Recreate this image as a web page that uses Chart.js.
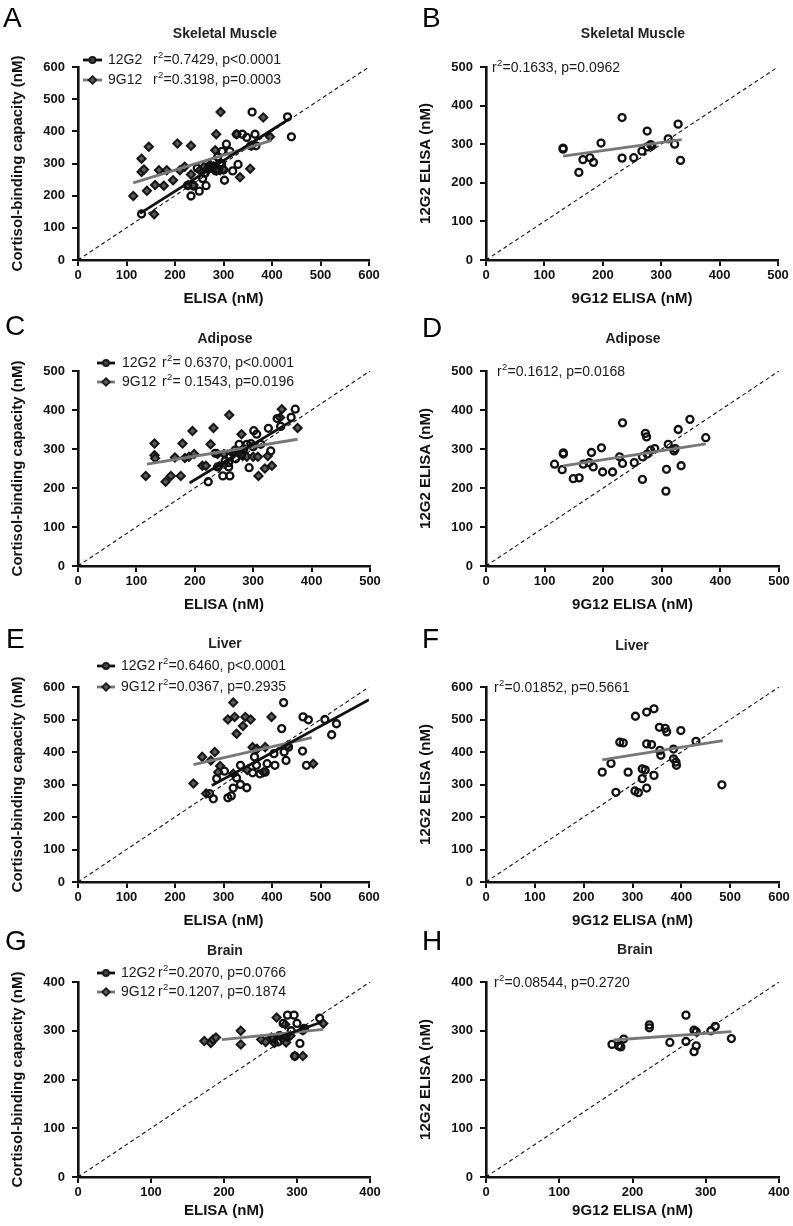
<!DOCTYPE html>
<html><head><meta charset="utf-8">
<script src="https://cdn.jsdelivr.net/npm/chart.js@4/dist/chart.umd.min.js"></script>
<style>
html,body{margin:0;padding:0;background:#fff;}
#wrap{position:relative;width:793px;height:1226px;overflow:hidden;background:#fff;}
canvas{position:absolute;}
</style></head><body><div id="wrap"></div>
<script>
// ---------- DATA ----------
const TICKS_600 = [0,100,200,300,400,500,600];
const TICKS_500 = [0,100,200,300,400,500];
const TICKS_400 = [0,100,200,300,400];

// Panel A – Skeletal Muscle, ELISA vs cortisol-binding capacity
const A_12G2_x = [131,233,250,264,257,302,279,293,297,306,313,319,330,327,339,348,359,365,367,356,432,440,226,238,262,270,276,284,290,288,296,300,268,246,280];
const A_12G2_y = [143,199,214,231,253,248,305,300,338,360,338,277,297,391,391,381,460,391,355,355,445,383,232,230,270,290,285,277,282,320,300,280,283,285,292];
const A_9G12_x = [114,131,131,136,146,142,157,159,167,177,183,196,205,210,220,233,233,227,238,251,260,279,285,294,283,293,327,334,355,382,396,358,268,300,286,272];
const A_9G12_y = [199,315,274,281,352,215,142,233,279,231,279,248,362,279,290,355,266,233,233,279,290,290,391,460,341,279,391,257,284,443,383,355,282,282,278,296];
const A_fit12G2_x = [128,437], A_fit12G2_y = [145,440];
const A_fit9G12_x = [114,399], A_fit9G12_y = [240,372];

// Panel B – Skeletal Muscle, 9G12 vs 12G2
const B_x = [132,132,159,166,178,184,197,233,233,253,267,276,276,282,284,312,323,329,333];
const B_y = [290,287,227,260,265,253,303,369,264,265,282,293,334,299,296,314,300,352,258];
const B_fit_x = [132,335], B_fit_y = [269,312];

// Panel C – Adipose
const C_12G2_x = [223,248,260,239,258,260,269,276,289,296,293,300,301,306,313,326,330,341,347,365,372,235,258,280,284,270,252];
const C_12G2_y = [216,231,231,254,254,280,297,312,312,314,252,306,347,338,312,353,295,378,358,381,402,289,265,285,300,275,270];
const C_9G12_x = [116,131,131,132,150,159,166,176,179,183,190,196,199,227,232,213,219,239,242,250,259,266,280,282,289,300,309,308,320,325,332,346,349,376,277];
const C_9G12_y = [231,314,284,276,216,231,278,231,314,277,280,346,287,312,354,257,257,287,256,287,387,287,338,282,280,280,231,280,250,282,257,381,402,354,292];
const C_fit12G2_x = [191,366], C_fit12G2_y = [213,372];
const C_fit9G12_x = [118,376], C_fit9G12_y = [261,325];

// Panel D – Adipose, 9G12 vs 12G2
const D_x = [117,130,132,132,149,159,166,176,180,183,197,199,216,228,233,233,253,267,267,272,274,275,281,288,308,307,311,321,323,328,333,348,375];
const D_y = [261,247,290,287,224,226,261,265,291,254,303,241,241,280,367,263,265,280,222,340,331,287,297,301,248,192,312,295,301,350,257,376,329];
const D_fit_x = [132,375], D_fit_y = [257,313];

// Panel E – Liver
const E_12G2_x = [271,279,286,302,320,309,316,327,335,348,360,364,368,386,390,406,404,420,424,425,429,434,463,464,471,475,509,523,533,335,375];
const E_12G2_y = [272,256,318,341,289,259,265,320,359,290,336,385,359,338,364,359,395,472,552,400,374,415,403,508,359,499,500,453,487,300,333];
const E_9G12_x = [238,256,274,282,293,309,320,323,327,340,345,356,360,369,386,399,320,382,432,485,264,289,349,367];
const E_9G12_y = [303,385,374,400,357,500,552,508,456,480,508,500,415,410,415,508,333,338,420,364,272,338,345,407];
const E_fit12G2_x = [276,600], E_fit12G2_y = [297,561];
const E_fit9G12_x = [238,482], E_fit9G12_y = [361,444];

// Panel F – Liver, 9G12 vs 12G2
const F_x = [238,256,266,274,291,281,306,305,312,320,320,326,329,329,329,339,344,344,355,356,358,367,370,384,384,389,390,399,430,483];
const F_y = [338,365,276,430,338,428,510,280,275,318,348,345,425,523,289,423,533,328,476,405,390,473,462,409,379,369,359,466,433,299];
const F_fit_x = [238,485], F_fit_y = [376,435];

// Panel G – Brain
const G_12G2_x = [268,274,281,287,296,300,304,297,331,308,276,285,292,310];
const G_12G2_y = [284,277,315,332,332,315,274,248,326,301,290,288,300,305];
const G_9G12_x = [173,182,185,189,223,223,251,257,265,269,272,277,284,285,287,297,308,308,336,280,291];
const G_9G12_y = [279,275,282,286,300,272,282,277,286,275,327,289,313,276,287,248,248,301,315,284,290];
const G_fit12G2_x = [268,334], G_fit12G2_y = [283,318];
const G_fit9G12_x = [197,336], G_fit9G12_y = [282,303];

// Panel H – Brain, 9G12 vs 12G2
const H_x = [172,181,184,188,223,223,251,273,273,284,287,287,284,307,313,335];
const H_y = [272,269,267,283,312,306,276,332,278,301,298,269,257,300,309,284];
const H_fit_x = [174,335], H_fit_y = [281,298];

// Identity lines (y = x) endpoints
const IDENT_600 = [0,600], IDENT_500 = [0,500], IDENT_400 = [0,400];

// Legend / annotation texts
const LEG_A = [['12G2','=0.7429, p<0.0001'],['9G12','=0.3198, p=0.0003']];
const LEG_C = [['12G2','= 0.6370, p<0.0001'],['9G12','= 0.1543, p=0.0196']];
const LEG_E = [['12G2','=0.6460, p<0.0001'],['9G12','=0.0367, p=0.2935']];
const LEG_G = [['12G2','=0.2070, p=0.0766'],['9G12','=0.1207, p=0.1874']];
const NOTE_B = '=0.1633, p=0.0962';
const NOTE_D = '=0.1612, p=0.0168';
const NOTE_F = '=0.01852, p=0.5661';
const NOTE_H = '=0.08544, p=0.2720';

// ---------- STYLE / LAYOUT ----------
const FONT = "'Liberation Sans', Arial, Helvetica, sans-serif";
const INK = '#111';
const GRAY = '#777';
function pts(xs, ys){ return xs.map((x,i)=>({x:x, y:ys[i]})); }

const circleStyle = {pointStyle:'circle', pointRadius:3.5, pointBorderWidth:2.3, borderColor:INK, backgroundColor:'rgba(255,255,255,0)'};
const diamondStyle = {pointStyle:'rectRot', pointRadius:4.1, pointBorderWidth:2, borderColor:'#151515', backgroundColor:'#5a5a5a'};

function pointSet(label, xs, ys, st){
  return {type:'scatter', label:label, data:pts(xs,ys), order:1, showLine:false,
    pointStyle:st.pointStyle, pointRadius:st.pointRadius, borderWidth:st.pointBorderWidth,
    borderColor:st.borderColor, backgroundColor:st.backgroundColor, pointHoverRadius:st.pointRadius};
}
function lineSet(label, xs, ys, color, width, dash, order){
  return {type:'scatter', label:label, data:pts(xs,ys), order:order, showLine:true,
    pointRadius:0, borderColor:color, borderWidth:width, borderDash:dash||[], fill:false};
}

const leftY = 'Cortisol-binding capacity (nM)';
const rightY = '12G2 ELISA (nM)';

const panels = [
  {letter:'A', left:0, top:0, w:400, h:315, area:{l:78,r:369,t:67,b:260}, xTC:299, max:600, ticks:TICKS_600,
   xTitle:'ELISA (nM)', yTitle:leftY, yPad:9, letterPos:[3,27], title:'Skeletal Muscle', titlePos:[225,38],
   legend:LEG_A, legPos:{lx1:83, lx2:102, nx:108, sx:153, y1:60, y2:80},
   sets:[lineSet('fit 12G2',A_fit12G2_x,A_fit12G2_y,INK,2.8,null,0), lineSet('fit 9G12',A_fit9G12_x,A_fit9G12_y,GRAY,2.8,null,0),
         pointSet('12G2',A_12G2_x,A_12G2_y,circleStyle), pointSet('9G12',A_9G12_x,A_9G12_y,diamondStyle),
         lineSet('identity',IDENT_600,IDENT_600,INK,1.1,[4,3],3)]},
  {letter:'B', left:400, top:0, w:393, h:315, area:{l:86,r:378,t:67,b:260}, xTC:299, max:500, ticks:TICKS_500,
   xTitle:'9G12 ELISA (nM)', yTitle:rightY, yPad:17, letterPos:[22,27], title:'Skeletal Muscle', titlePos:[233,38],
   note:NOTE_B, notePos:[92,68],
   sets:[lineSet('fit',B_fit_x,B_fit_y,GRAY,2.8,null,0), pointSet('12G2 vs 9G12',B_x,B_y,circleStyle),
         lineSet('identity',IDENT_500,IDENT_500,INK,1.1,[4,3],3)]},
  {letter:'C', left:0, top:300, w:400, h:320, area:{l:78,r:370,t:71,b:266}, xTC:305, max:500, ticks:TICKS_500,
   xTitle:'ELISA (nM)', yTitle:leftY, yPad:9, letterPos:[5,35], title:'Adipose', titlePos:[225,43],
   legend:LEG_C, legPos:{lx1:97, lx2:115, nx:122, sx:162, y1:63, y2:82},
   sets:[lineSet('fit 12G2',C_fit12G2_x,C_fit12G2_y,INK,2.8,null,0), lineSet('fit 9G12',C_fit9G12_x,C_fit9G12_y,GRAY,2.8,null,0),
         pointSet('12G2',C_12G2_x,C_12G2_y,circleStyle), pointSet('9G12',C_9G12_x,C_9G12_y,diamondStyle),
         lineSet('identity',IDENT_500,IDENT_500,INK,1.1,[4,3],3)]},
  {letter:'D', left:400, top:300, w:393, h:320, area:{l:86,r:379,t:71,b:266}, xTC:305, max:500, ticks:TICKS_500,
   xTitle:'9G12 ELISA (nM)', yTitle:rightY, yPad:17, letterPos:[22,37], title:'Adipose', titlePos:[233,43],
   note:NOTE_D, notePos:[97,72],
   sets:[lineSet('fit',D_fit_x,D_fit_y,GRAY,2.8,null,0), pointSet('12G2 vs 9G12',D_x,D_y,circleStyle),
         lineSet('identity',IDENT_500,IDENT_500,INK,1.1,[4,3],3)]},
  {letter:'E', left:0, top:605, w:400, h:325, area:{l:78,r:369,t:82,b:277}, xTC:316, max:600, ticks:TICKS_600,
   xTitle:'ELISA (nM)', yTitle:leftY, yPad:9, letterPos:[6,43], title:'Liver', titlePos:[225,43],
   legend:LEG_E, legPos:{lx1:97, lx2:115, nx:121, sx:158, y1:61, y2:82},
   sets:[lineSet('fit 12G2',E_fit12G2_x,E_fit12G2_y,INK,2.8,null,0), lineSet('fit 9G12',E_fit9G12_x,E_fit9G12_y,GRAY,2.8,null,0),
         pointSet('12G2',E_12G2_x,E_12G2_y,circleStyle), pointSet('9G12',E_9G12_x,E_9G12_y,diamondStyle),
         lineSet('identity',IDENT_600,IDENT_600,INK,1.1,[4,3],3)]},
  {letter:'F', left:400, top:605, w:393, h:325, area:{l:86,r:379,t:82,b:277}, xTC:316, max:600, ticks:TICKS_600,
   xTitle:'9G12 ELISA (nM)', yTitle:rightY, yPad:17, letterPos:[22,43], title:'Liver', titlePos:[232,45],
   note:NOTE_F, notePos:[94,83],
   sets:[lineSet('fit',F_fit_x,F_fit_y,GRAY,2.8,null,0), pointSet('12G2 vs 9G12',F_x,F_y,circleStyle),
         lineSet('identity',IDENT_600,IDENT_600,INK,1.1,[4,3],3)]},
  {letter:'G', left:0, top:915, w:400, h:311, area:{l:78,r:370,t:67,b:262}, xTC:296, max:400, ticks:TICKS_400,
   xTitle:'ELISA (nM)', yTitle:leftY, yPad:9, letterPos:[5,35], title:'Brain', titlePos:[225,40],
   legend:LEG_G, legPos:{lx1:97, lx2:115, nx:121, sx:158, y1:58, y2:77},
   sets:[lineSet('fit 12G2',G_fit12G2_x,G_fit12G2_y,INK,2.8,null,0), lineSet('fit 9G12',G_fit9G12_x,G_fit9G12_y,GRAY,2.8,null,0),
         pointSet('12G2',G_12G2_x,G_12G2_y,circleStyle), pointSet('9G12',G_9G12_x,G_9G12_y,diamondStyle),
         lineSet('identity',IDENT_400,IDENT_400,INK,1.1,[4,3],3)]},
  {letter:'H', left:400, top:915, w:393, h:311, area:{l:86,r:379,t:67,b:262}, xTC:296, max:400, ticks:TICKS_400,
   xTitle:'9G12 ELISA (nM)', yTitle:rightY, yPad:17, letterPos:[22,35], title:'Brain', titlePos:[235,39],
   note:NOTE_H, notePos:[94,68],
   sets:[lineSet('fit',H_fit_x,H_fit_y,GRAY,2.8,null,0), pointSet('12G2 vs 9G12',H_x,H_y,circleStyle),
         lineSet('identity',IDENT_400,IDENT_400,INK,1.1,[4,3],3)]}
];

function drawR2(ctx, x, y, rest){
  ctx.textAlign = 'left'; ctx.textBaseline = 'middle';
  ctx.font = '14px ' + FONT;
  ctx.fillText('r', x, y);
  const w1 = ctx.measureText('r').width;
  ctx.font = '9.5px ' + FONT;
  ctx.fillText('2', x + w1 + 0.3, y - 5);
  const w2 = ctx.measureText('2').width;
  ctx.font = '14px ' + FONT;
  ctx.fillText(rest, x + w1 + w2 + 0.6, y);
}

const decoPlugin = {
  id:'deco',
  afterDraw(chart, args, opts){
    const p = opts.panel; if (!p) return;
    const ctx = chart.ctx;
    ctx.save();
    ctx.fillStyle = '#000';
    ctx.textAlign = 'left'; ctx.textBaseline = 'alphabetic';
    ctx.font = '28px ' + FONT;
    ctx.fillText(p.letter, p.letterPos[0], p.letterPos[1]);
    ctx.fillStyle = '#222';
    ctx.textAlign = 'center';
    ctx.font = 'bold 14px ' + FONT;
    ctx.fillText(p.title, p.titlePos[0], p.titlePos[1]);
    ctx.fillStyle = '#1a1a1a';
    if (p.legend){
      const L = p.legPos;
      const rows = [[L.y1, INK, 'circle'], [L.y2, GRAY, 'diamond']];
      rows.forEach((r, i) => {
        const y = r[0];
        ctx.strokeStyle = r[1]; ctx.lineWidth = 2.8; ctx.setLineDash([]);
        ctx.beginPath(); ctx.moveTo(L.lx1, y); ctx.lineTo(L.lx2, y); ctx.stroke();
        const cx = (L.lx1 + L.lx2) / 2;
        ctx.lineWidth = 1.8; ctx.strokeStyle = '#1a1a1a';
        ctx.beginPath();
        if (r[2] === 'circle'){ ctx.fillStyle = '#444'; ctx.arc(cx, y, 3, 0, Math.PI*2); }
        else { ctx.fillStyle = '#5a5a5a'; ctx.moveTo(cx, y-3.8); ctx.lineTo(cx+3.8, y); ctx.lineTo(cx, y+3.8); ctx.lineTo(cx-3.8, y); ctx.closePath(); }
        ctx.fill(); ctx.stroke();
        ctx.fillStyle = '#1a1a1a';
        ctx.font = '14px ' + FONT; ctx.textAlign = 'left'; ctx.textBaseline = 'middle';
        ctx.fillText(p.legend[i][0], L.nx, y);
        drawR2(ctx, L.sx, y, p.legend[i][1]);
      });
    }
    if (p.note){
      drawR2(ctx, p.notePos[0], p.notePos[1], p.note);
    }
    ctx.restore();
  }
};

const wrap = document.getElementById('wrap');
panels.forEach(p => {
  const cv = document.createElement('canvas');
  cv.width = p.w; cv.height = p.h;
  cv.style.left = p.left + 'px'; cv.style.top = p.top + 'px';
  cv.style.width = p.w + 'px'; cv.style.height = p.h + 'px';
  wrap.appendChild(cv);
  const a = p.area;
  const xH = p.xTC + 9 - a.b;
  const axisCommon = (isX) => ({
    type:'linear', min:0, max:p.max,
    afterBuildTicks: (s) => { s.ticks = p.ticks.map(v => ({value:v})); },
    ticks:{color:INK, font:{family:FONT, size:13, weight:'bold'}, padding: isX ? 2 : 7, maxRotation:0, autoSkip:false},
    grid:{display:true, drawOnChartArea:false, drawTicks:true, tickLength:6, color:INK, lineWidth:2},
    border:{display:true, color:INK, width:2.6}
  });
  const xAxis = Object.assign(axisCommon(true), {
    position:'bottom',
    title:{display:true, text:p.xTitle, color:INK, font:{family:FONT, size:15, weight:'bold'}, padding:{top:0,bottom:0}},
    afterFit:(s) => { s.height = xH; }
  });
  const yAxis = Object.assign(axisCommon(false), {
    position:'left',
    title:{display:true, text:p.yTitle, color:INK, font:{family:FONT, size:15, weight:'bold'}, padding:{top:p.yPad,bottom:0}},
    afterFit:(s) => { s.width = a.l; }
  });
  new Chart(cv, {
    type:'scatter',
    data:{datasets:p.sets},
    options:{
      responsive:false, animation:false, devicePixelRatio:1, events:[],
      layout:{padding:{left:0, top:a.t, right:p.w - a.r, bottom:p.h - a.b - xH}},
      scales:{x:xAxis, y:yAxis},
      plugins:{legend:{display:false}, tooltip:{enabled:false}, title:{display:false}, deco:{panel:p}}
    },
    plugins:[decoPlugin]
  });
});
</script></body></html>
